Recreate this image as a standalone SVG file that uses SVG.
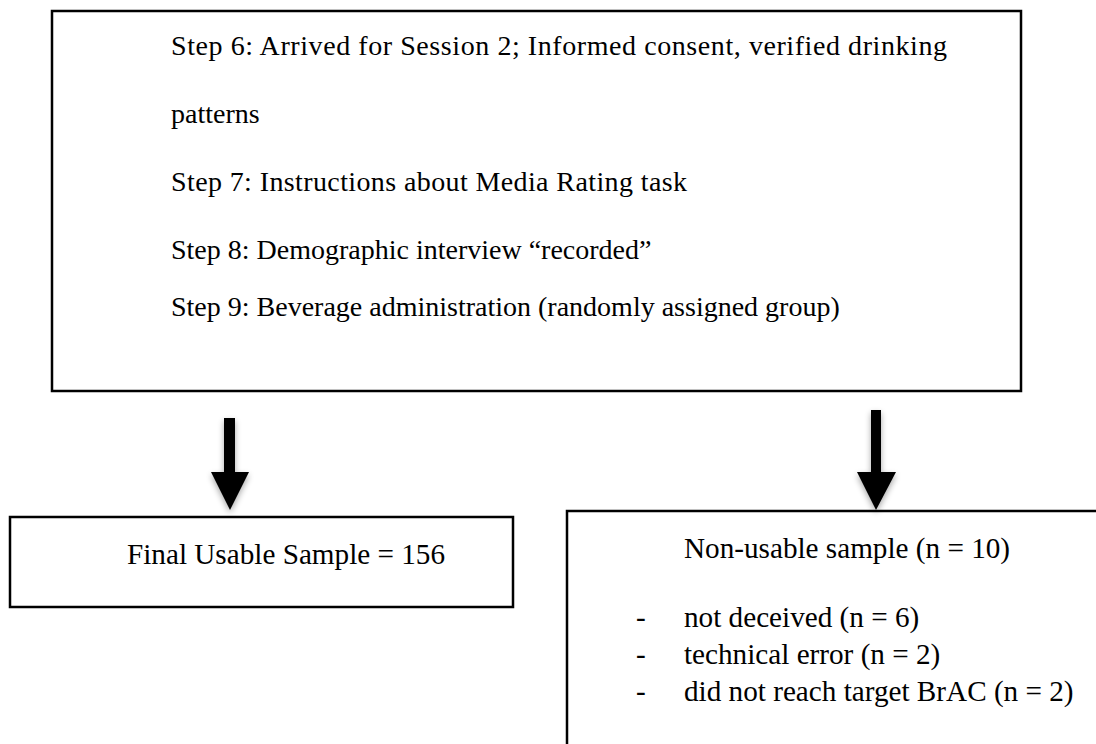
<svg xmlns="http://www.w3.org/2000/svg" width="1096" height="744" viewBox="0 0 1096 744">
<style>
.box{fill:#fff;stroke:#000;stroke-width:2.5}
.t{font-family:"Liberation Serif","Times New Roman",serif;font-size:28px;fill:#000}
.b{font-size:29.2px}
.arrow{fill:#000}
</style>
<defs>
<filter id="sh" x="-50%" y="-20%" width="200%" height="150%">
<feGaussianBlur in="SourceAlpha" stdDeviation="3"/>
<feOffset dx="0" dy="3" result="b"/>
<feComponentTransfer><feFuncA type="linear" slope="0.35"/></feComponentTransfer>
<feMerge><feMergeNode/><feMergeNode in="SourceGraphic"/></feMerge>
</filter>
</defs>
<rect width="1096" height="744" fill="#fff"/>
<g id="steps">
<rect class="box" x="52" y="11" width="969" height="380"/>
<text class="t" x="171" y="55" textLength="776" lengthAdjust="spacing">Step 6: Arrived for Session 2; Informed consent, verified drinking</text>
<text class="t" x="171" y="123">patterns</text>
<text class="t" x="171" y="191" textLength="516" lengthAdjust="spacing">Step 7: Instructions about Media Rating task</text>
<text class="t" x="171" y="259">Step 8: Demographic interview “recorded”</text>
<text class="t" x="171" y="316">Step 9: Beverage administration (randomly assigned group)</text>
</g>
<g id="final">
<rect class="box" x="10" y="517" width="503" height="90"/>
<text class="t b" x="127" y="564">Final Usable Sample = 156</text>
</g>
<g id="nonusable">
<rect class="box" x="567" y="511" width="560" height="260"/>
<text class="t b" x="684" y="558">Non-usable sample (n = 10)</text>
<text class="t b" x="636" y="627">-</text>
<text class="t b" x="684" y="627">not deceived (n = 6)</text>
<text class="t b" x="636" y="664">-</text>
<text class="t b" x="684" y="664">technical error (n = 2)</text>
<text class="t b" x="636" y="701">-</text>
<text class="t b" x="684" y="701">did not reach target BrAC (n = 2)</text>
</g>
<g id="connectors">
<path class="arrow" filter="url(#sh)" d="M224,418 L235,418 L235,472 L249,472 L230,510 L211,472 L224,472 Z"/>
<path class="arrow" filter="url(#sh)" d="M871,410 L881,410 L881,472 L896,472 L876,510 L857,472 L871,472 Z"/>
</g>
</svg>
